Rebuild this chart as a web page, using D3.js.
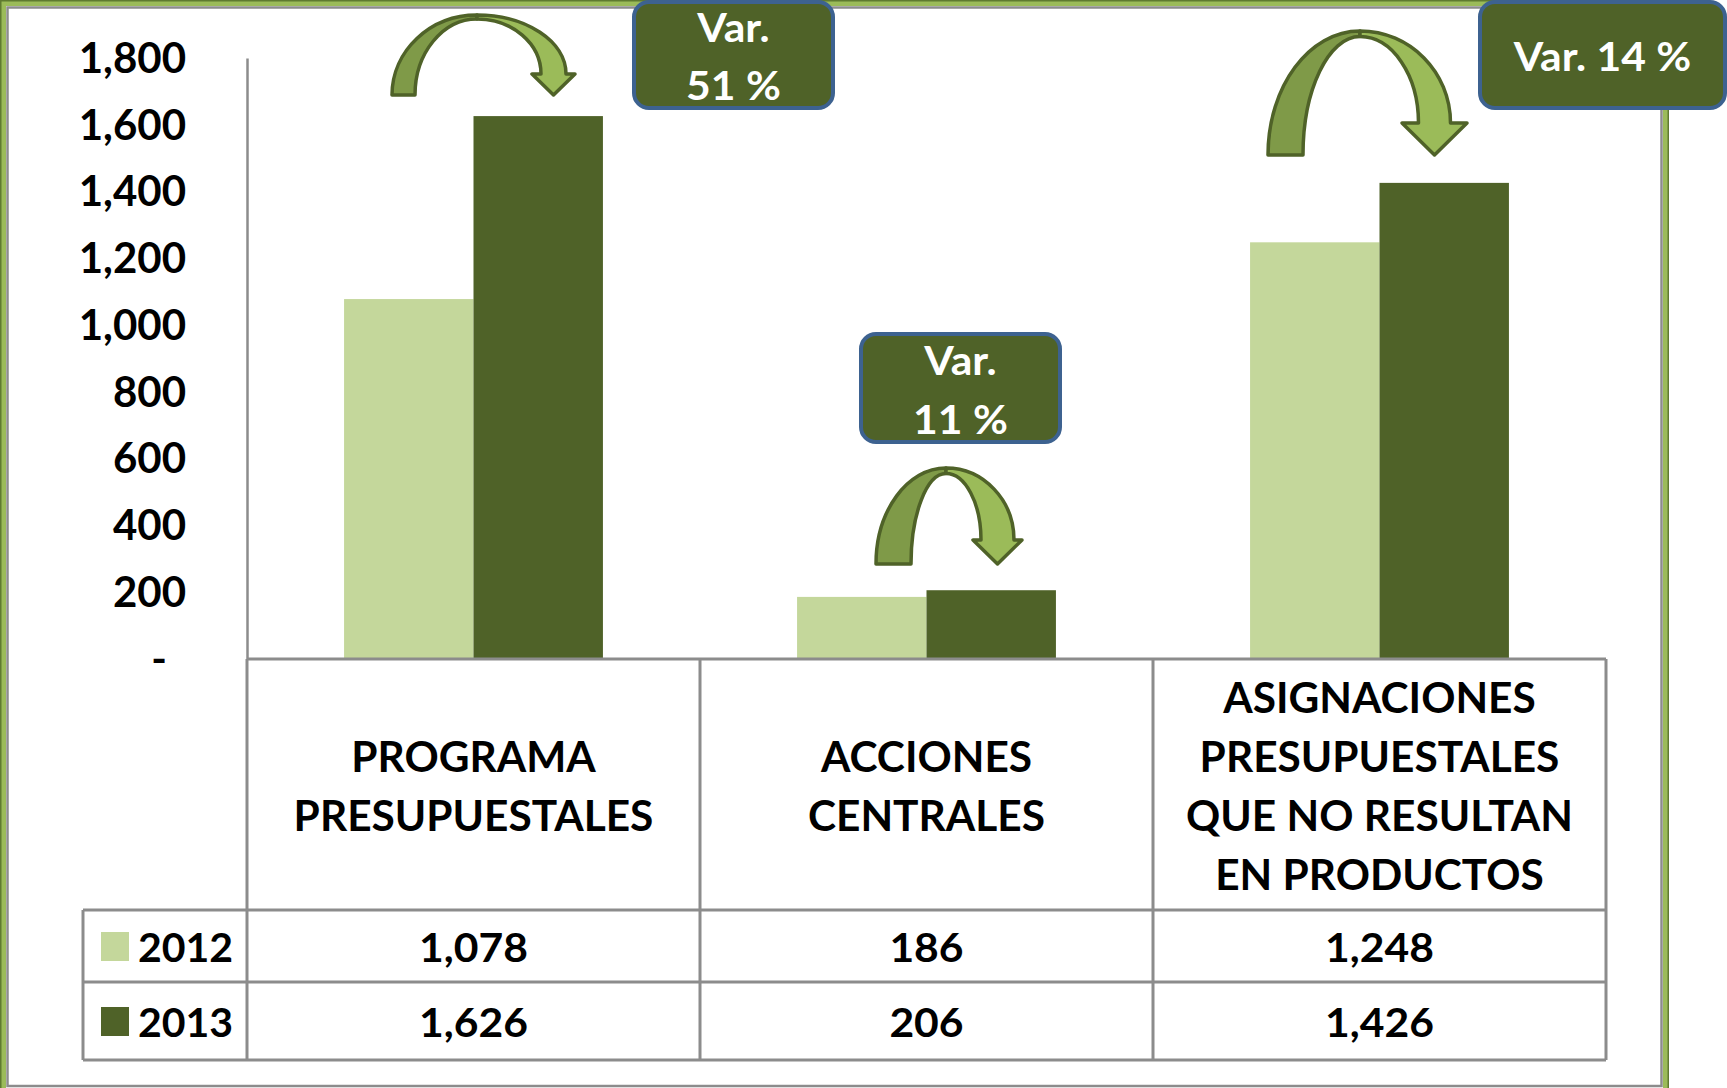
<!DOCTYPE html>
<html><head><meta charset="utf-8">
<script src="https://cdn.jsdelivr.net/npm/d3@7"></script>
<style>
html,body{margin:0;padding:0;background:#fff;overflow:hidden}
svg{display:block;font-family:Lato,'Open Sans',sans-serif;font-weight:700}
</style>
</head><body>
<svg id="c" width="1727" height="1088"></svg>
<script>
// ---------- data ----------
const categories = ["PROGRAMA PRESUPUESTALES", "ACCIONES CENTRALES", "ASIGNACIONES PRESUPUESTALES QUE NO RESULTAN EN PRODUCTOS"];
const categoryLines = [["PROGRAMA", "PRESUPUESTALES"], ["ACCIONES", "CENTRALES"], ["ASIGNACIONES", "PRESUPUESTALES", "QUE NO RESULTAN", "EN PRODUCTOS"]];
const seriesNames = ["2012", "2013"];
const values2012 = [1078, 186, 1248];
const values2013 = [1626, 206, 1426];
const yTicks = [0, 200, 400, 600, 800, 1000, 1200, 1400, 1600, 1800];
const variations = [51, 11, 14];

// ---------- layout / style ----------
const colors = { "2012": "#c4d79b", "2013": "#4f6228" };
const plot = { left: 247, right: 1606, top: 58, bottom: 659 };
const table = { headerBottom: 910, row1Bottom: 982, row2Bottom: 1060, legendLeft: 83 };
const gridColor = "#8c8c8c";
const FONT = 41;

// annotation layout (boxes + arrows)
const boxLayout = [
  { x: 634, y: 2, w: 199, h: 106, lines: v => ["Var.", v + " %"], base: [42, 100] },
  { x: 861, y: 334, w: 199, h: 108, lines: v => ["Var.", v + " %"], base: [375, 434] },
  { x: 1480, y: 2, w: 245, h: 106, lines: v => ["Var. " + v + " %"], base: [71] }
];
const arrowLayout = [
  { L: 392, T: 15, R: 575, B: 95, fw: 23, sw: 25, hw: 43, hh: 21, ax: 477 },
  { L: 876, T: 468, R: 1022, B: 564, fw: 35, sw: 33, hw: 49, hh: 24, ax: 946 },
  { L: 1268, T: 31, R: 1467, B: 155, fw: 35, sw: 32, hw: 65, hh: 32, ax: 1360 }
];

const svg = d3.select("#c");

// background + frame
svg.append("rect").attr("width", 1727).attr("height", 1088).attr("fill", "#fff");
svg.append("rect").attr("x", 3).attr("y", 3).attr("width", 1663).attr("height", 1090)
  .attr("fill", "none").attr("stroke", "#9bbb59").attr("stroke-width", 6);
svg.append("rect").attr("x", 0.75).attr("y", 0.75).attr("width", 1667.5).attr("height", 1095)
  .attr("fill", "none").attr("stroke", "#5f7a30").attr("stroke-width", 1.5);
svg.append("rect").attr("x", 7.5).attr("y", 7.5).attr("width", 1654).attr("height", 1078.5)
  .attr("fill", "none").attr("stroke", gridColor).attr("stroke-width", 2.5);

// scales
const x = d3.scaleBand().domain(categories).range([plot.left, plot.right]).paddingInner(0).paddingOuter(0);
const xSub = d3.scaleBand().domain(seriesNames).range([0, x.bandwidth()]).paddingInner(0).paddingOuter(0.75);
const y = d3.scaleLinear().domain([0, 1800]).range([plot.bottom, plot.top]);

const rows = categories.map((c, i) => ({ cat: c, vals: { "2012": values2012[i], "2013": values2013[i] } }));

// bars
const g = svg.append("g");
g.selectAll("g.cat").data(rows).join("g").attr("class", "cat")
  .attr("transform", d => `translate(${x(d.cat)},0)`)
  .selectAll("rect").data(d => seriesNames.map(s => ({ s, v: d.vals[s] }))).join("rect")
  .attr("x", d => xSub(d.s)).attr("width", xSub.bandwidth())
  .attr("y", d => y(d.v)).attr("height", d => y(0) - y(d.v))
  .attr("fill", d => colors[d.s]);

// y axis
const yAxis = d3.axisLeft(y).tickValues(yTicks).tickSize(0).tickPadding(61)
  .tickFormat(d => d === 0 ? "-" : d3.format(",")(d));
const ya = svg.append("g").attr("transform", `translate(${plot.left},0)`).call(yAxis);
ya.select(".domain").attr("stroke", gridColor).attr("stroke-width", 2.5);
ya.selectAll(".tick text").attr("font-size", 42).attr("font-family", "Lato, sans-serif")
  .attr("font-weight", 700).attr("fill", "#000").attr("dy", "0.34em")
  .attr("x", d => d === 0 ? -80 : -61);

// table lines
const tl = svg.append("g").attr("stroke", gridColor).attr("stroke-width", 3).attr("fill", "none");
const hLine = (x1, x2, yy) => tl.append("line").attr("x1", x1).attr("x2", x2).attr("y1", yy).attr("y2", yy);
const vLine = (xx, y1, y2) => tl.append("line").attr("x1", xx).attr("x2", xx).attr("y1", y1).attr("y2", y2);
hLine(plot.left, plot.right, plot.bottom);
hLine(table.legendLeft, plot.right, table.headerBottom);
hLine(table.legendLeft, plot.right, table.row1Bottom);
hLine(table.legendLeft, plot.right, table.row2Bottom);
vLine(plot.left, plot.bottom, table.row2Bottom);
categories.forEach(c => vLine(x(c) + x.bandwidth(), plot.bottom, table.row2Bottom));
vLine(table.legendLeft, table.headerBottom, table.row2Bottom);

function condense(sel, f) {
  sel.each(function () {
    const w = this.getComputedTextLength();
    this.setAttribute("textLength", w * f);
    this.setAttribute("lengthAdjust", "spacingAndGlyphs");
  });
}

// header labels
const headerMid = (plot.bottom + table.headerBottom) / 2 + 1.5;
const lh = 59;
categories.forEach((c, i) => {
  const lines = categoryLines[i];
  const t = svg.append("g").attr("font-size", 42).attr("text-anchor", "middle").attr("fill", "#000");
  lines.forEach((ln, j) => {
    t.append("text").attr("x", x(c) + x.bandwidth() / 2)
      .attr("y", headerMid + (j - (lines.length - 1) / 2) * lh + 15)
      .text(ln).call(condense, 1.01);
  });
});

// data rows
const rowDefs = [
  { s: "2012", vals: values2012, top: table.headerBottom, bot: table.row1Bottom },
  { s: "2013", vals: values2013, top: table.row1Bottom, bot: table.row2Bottom }
];
rowDefs.forEach(r => {
  const cy = (r.top + r.bot) / 2;
  svg.append("rect").attr("x", 101).attr("y", cy - 14).attr("width", 28).attr("height", 29).attr("fill", colors[r.s]);
  svg.append("text").attr("x", 138).attr("y", cy + 15.5).attr("font-size", FONT).attr("fill", "#000").text(r.s);
  categories.forEach((c, i) => {
    svg.append("text").attr("x", x(c) + x.bandwidth() / 2).attr("y", cy + 15.5)
      .attr("font-size", FONT).attr("text-anchor", "middle").attr("fill", "#000")
      .text(d3.format(",")(r.vals[i])).call(condense, 1.04);
  });
});

// arrows
const k = 0.5523;
function arrowPaths(a) {
  const { L, T, R, B, fw, sw, hw, hh, ax } = a;
  const d = Math.max(4, fw * 0.16);
  const cx = R - hw / 2;
  const ys = B - hh;
  const xo = cx + sw / 2, xi = cx - sw / 2;
  const left = `M${L},${B} C${L},${B - k * (B - T)} ${ax - k * (ax - L)},${T} ${ax},${T} ` +
    `L${ax},${T + d} C${ax - k * (ax - L - fw)},${T + d} ${L + fw},${B - k * (B - T - d)} ${L + fw},${B} Z`;
  const right = `M${ax},${T} C${ax + k * (xo - ax)},${T} ${xo},${ys - k * (ys - T)} ${xo},${ys} ` +
    `L${R},${ys} L${cx},${B} L${R - hw},${ys} L${xi},${ys} ` +
    `C${xi},${ys - k * (ys - T - d)} ${ax + k * (xi - ax)},${T + d} ${ax},${T + d} Z`;
  return { left, right };
}
const ag = svg.append("g").attr("stroke", "#4f6228").attr("stroke-width", 3.5).attr("stroke-linejoin", "round");
arrowLayout.forEach(a => {
  const p = arrowPaths(a);
  ag.append("path").attr("d", p.left).attr("fill", "#7f9a48");
  ag.append("path").attr("d", p.right).attr("fill", "#9bbb59");
});

// variation boxes
variations.forEach((v, i) => {
  const b = boxLayout[i];
  svg.append("rect").attr("x", b.x).attr("y", b.y).attr("width", b.w).attr("height", b.h)
    .attr("rx", 15).attr("ry", 15).attr("fill", "#4f6228").attr("stroke", "#3d6290").attr("stroke-width", 4);
  b.lines(v).forEach((ln, j) => {
    svg.append("text").attr("x", b.x + b.w / 2).attr("y", b.base[j]).attr("text-anchor", "middle")
      .attr("font-size", FONT).attr("fill", "#fff").text(ln).call(condense, 1.04);
  });
});
</script>
</body></html>
